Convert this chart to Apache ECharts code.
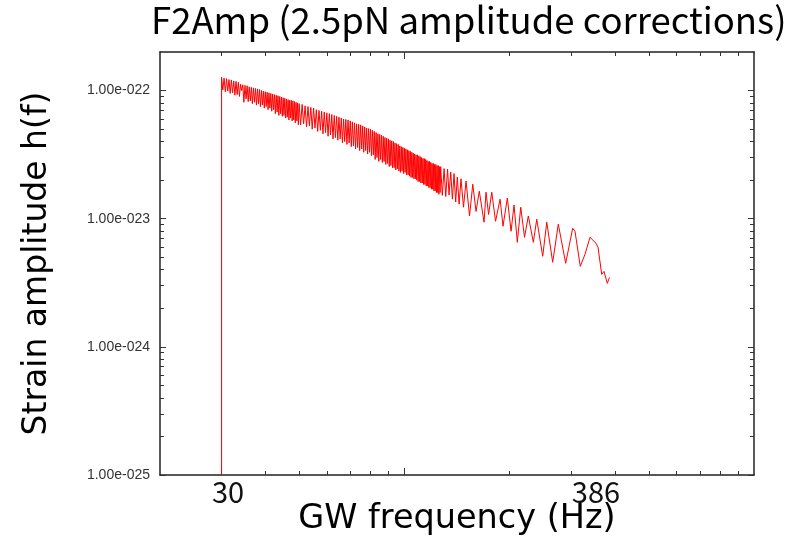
<!DOCTYPE html>
<html>
<head>
<meta charset="utf-8">
<script src="https://cdn.jsdelivr.net/npm/echarts@6/dist/echarts.min.js"></script>
<style>html,body{margin:0;padding:0;background:#fff;}#chart{width:795px;height:538px;}</style>
</head>
<body>
<div id="chart"></div>
<script>
// GW frequency (Hz)
const freq = [
 30,
 30, 30.25, 30.5, 30.75, 31, 31.25, 31.5, 31.75, 32, 32.25, 32.5, 32.75,
 33, 33.25, 33.5, 33.75, 34, 34.25, 34.5, 34.75, 35, 35.25, 35.5, 35.75, 36, 36.25,
 36.5, 36.75, 37, 37.25, 37.5, 37.75, 38, 38.25, 38.5, 38.75, 39, 39.25, 39.5, 39.75, 40, 40.25, 40.5, 40.75, 41, 41.25, 41.5, 41.75, 42, 42.25, 42.5,
 42.75, 43, 43.25, 43.5, 43.75, 44, 44.25, 44.5, 44.75, 45, 45.25, 45.5, 45.75, 46, 46.25, 46.5, 46.75, 47, 47.25, 47.5, 47.75, 48, 48.25, 48.5, 48.75, 49, 49.25, 49.5, 49.75, 50,
 50.5, 51, 51.5, 52, 52.5, 53, 53.5, 54, 54.5, 55, 55.5, 56, 56.5, 57, 57.5, 58, 58.5, 59, 59.5, 60,
 60.5, 61, 61.5, 62, 62.5, 63, 63.5, 64, 64.5, 65, 65.5, 66, 66.5, 67, 67.5, 68, 68.5, 69, 69.5, 70,
 70.5, 71, 71.5, 72, 72.5, 73, 73.5, 74, 74.5, 75, 75.5, 76, 76.5, 77, 77.5, 78, 78.5, 79, 79.5, 80, 80.5, 81, 81.5, 82,
 82.5, 83, 83.5, 84, 84.5, 85, 85.5, 86, 86.5, 87, 87.5, 88, 88.5, 89, 89.5, 90, 90.5, 91, 91.5, 92, 92.5, 93, 93.5, 94, 94.5, 95, 95.5, 96, 96.5, 97,
 97.5, 98, 98.5, 99, 99.5, 100, 100.5, 101, 101.5, 102, 102.5, 103, 103.5, 104, 104.5, 105, 105.5, 106, 106.5, 107, 107.5, 108, 108.5, 109, 109.5, 110,
 110.5, 111, 111.5, 112, 112.5, 113, 113.5, 114, 114.5, 115, 115.5, 116, 116.5, 117, 117.5, 118, 118.5, 119, 119.5, 120, 120.5, 121, 121.5, 122, 122.5, 123, 123.5, 124, 124.5, 125, 125.5, 126, 126.5, 127,
 128.4, 129.9, 131.3, 132.9, 134.2, 135.7, 137.2, 138.7, 140.2, 141.7, 143.4, 145.2, 147.6, 150.1,
 153.6, 156.9, 160.3, 163.8, 169.0, 171.2, 174.1, 177.8, 182.3, 187.8, 191.5, 197.0, 201.9, 205.9,
 210.4, 215.2, 220.6, 226.2, 233.8, 239.1, 248.7, 255.4, 265.6, 275.6, 289.3, 303.0, 307.6, 318.5,
 328.5, 339.6, 353.3, 358.0, 366.8, 372.4, 380.6, 386
];
// Strain amplitude h(f), in units of 1e-24
const amp24 = [
 0.001,
 127, 101, 125, 98, 124, 99, 122, 95, 121, 96, 119, 92,
 118, 93, 116, 90, 112, 100, 111, 81, 110, 86, 109, 82, 107, 83,
 106, 79, 105, 81, 104, 77, 103, 79, 102, 75, 100, 77, 99, 73, 98, 75, 97, 71, 96, 73, 95, 69, 94, 71, 93,
 66, 92, 68, 91, 64, 90, 66, 89, 63, 88, 64, 87, 61, 86, 62, 85, 59, 84, 61, 84, 58, 83, 59, 82, 56, 81, 58, 80, 54, 79,
 54, 78, 55, 76, 52, 75, 53, 74, 50, 73, 51, 71, 48, 70, 49, 69, 46, 68, 47, 67,
 44, 66, 45, 65, 42, 64, 43, 63, 41, 62, 42, 61, 39, 60, 40, 59.5, 38, 59, 39, 58,
 36.5, 57, 37, 56, 35, 55, 36, 54.5, 34, 54, 35, 53, 33, 52, 34, 51, 32, 50.5, 33, 50, 31, 49, 31.5, 48,
 29, 47, 30, 46, 28, 45.5, 29, 45, 27.5, 44, 28, 43, 26.5, 42.5, 27, 42, 25.5, 41, 26, 40.5, 25, 40, 25, 39, 24, 38.5, 24.5, 38, 23.5, 37,
 23, 36.5, 23.5, 36, 22.5, 35.5, 23, 35, 22, 34.5, 22, 34, 21.5, 33.5, 21, 33, 21, 32.5, 20.5, 32, 20.5, 31.5, 20, 31.5, 19.5, 31,
 19.5, 30.5, 19, 30, 19, 29.5, 18.5, 29.5, 18.5, 29, 18, 28.5, 18, 28, 17.5, 28, 17.5, 27.5, 17, 27, 17, 27, 16.5, 26.5, 16.5, 26.5, 16, 26, 16, 26, 15.5, 25.5, 16, 25.5,
 15.2, 24.6, 14.9, 24.4, 15.3, 23.1, 14.2, 22.5, 13.5, 21.1, 13.0, 20.5, 12.3, 19.7,
 10.5, 18.6, 11.4, 16.4, 9.39, 16.1, 10.8, 16.1, 9.56, 14.2, 8.74, 14.5, 7.98, 12.8,
 6.55, 12.3, 7.16, 10.5, 6.55, 9.91, 5.09, 9.39, 4.57, 9.06, 4.49, 8.43, 7.98, 4.25,
 5.27, 7.16, 6.43, 5.98, 3.68, 3.88, 3.13, 3.48
];
const AMP_UNIT = 1e-24;
const xLabelValues = [30, 386];
const xMajorTicks = [100];
const xMinorTicks = [30, 40, 50, 60, 70, 80, 90, 200, 300, 400, 500, 600, 700, 800, 900];
// y ticks in units of 1e-24
const yMajorTicks = [0.1, 1, 10, 100];
const yMinorTicks = [
 0.2, 0.3, 0.4, 0.5, 0.6, 0.7, 0.8, 0.9,
 2, 3, 4, 5, 6, 7, 8, 9,
 20, 30, 40, 50, 60, 70, 80, 90
];

const n = Math.min(freq.length, amp24.length);
const data = [];
for (let i = 0; i < n; i++) data.push([freq[i], amp24[i]]);

function fmtExp(v) {
  const e = Math.round(Math.log10(v));
  const m = v / Math.pow(10, e);
  return m.toFixed(2) + 'e' + (e < 0 ? '-' : '+') + String(Math.abs(e)).padStart(3, '0');
}

const TITLE_FONT = '"Noto Sans CJK KR", "Noto Sans", sans-serif';
const NAME_FONT = '"DejaVu Sans", sans-serif';
const LINE = { color: '#222', width: 1.5 };
const TICK = { color: '#333', width: 1 };

function xAx(pos, ticks, len, extra) {
  return Object.assign({
    type: 'log', logBase: 10, min: 20, max: 1000, position: pos,
    axisLine: { show: false, onZero: false },
    axisTick: { show: true, inside: true, length: len, customValues: ticks, lineStyle: TICK },
    axisLabel: { show: false },
    splitLine: { show: false }, minorTick: { show: false }, minorSplitLine: { show: false }
  }, extra || {});
}
function yAx(pos, ticks, len, extra) {
  return Object.assign({
    type: 'log', logBase: 10, min: 0.1, max: 200, position: pos,
    axisLine: { show: false, onZero: false },
    axisTick: { show: true, inside: true, length: len, customValues: ticks, lineStyle: TICK },
    axisLabel: { show: false },
    splitLine: { show: false }, minorTick: { show: false }, minorSplitLine: { show: false }
  }, extra || {});
}

const chart = echarts.init(document.getElementById('chart'), null, { renderer: 'canvas' });
chart.setOption({
  animation: false,
  backgroundColor: '#fff',
  title: {
    text: 'F2Amp (2.5pN amplitude corrections)',
    left: 146, top: -3,
    textStyle: { fontFamily: TITLE_FONT, fontSize: 36.5, fontWeight: 'normal', color: '#000' }
  },
  grid: { left: 160, right: 41, top: 52, bottom: 63, containLabel: false, outerBoundsMode: 'none' },
  xAxis: [
    xAx('bottom', xMajorTicks, 7, {
      axisLine: { show: true, onZero: false, lineStyle: LINE },
      axisLabel: {
        show: true, customValues: xLabelValues, margin: 2,
        formatter: v => (Math.round(v) === 30 ? '{a|30}' : '{b|' + Math.round(v) + '}'),
        rich: {
          a: { fontFamily: TITLE_FONT, fontSize: 29, color: '#111', padding: [0, 0, 0, 13] },
          b: { fontFamily: TITLE_FONT, fontSize: 29, color: '#111', padding: [0, 27, 0, 0] }
        }
      },
      name: 'GW frequency (Hz)', nameLocation: 'middle', nameGap: 27, nameMoveOverlap: false,
      nameTextStyle: { fontFamily: NAME_FONT, fontSize: 33.5, color: '#000' }
    }),
    xAx('bottom', xMinorTicks, 4),
    xAx('top', xMajorTicks, 7, { axisLine: { show: true, onZero: false, lineStyle: LINE } }),
    xAx('top', xMinorTicks, 4)
  ],
  yAxis: [
    yAx('left', yMajorTicks, 6, {
      axisLine: { show: true, onZero: false, lineStyle: LINE },
      axisLabel: {
        show: true, customValues: yMajorTicks, margin: 10,
        formatter: v => fmtExp(v * AMP_UNIT),
        fontFamily: '"Liberation Sans", Arial, sans-serif', fontSize: 14, color: '#333'
      },
      name: 'Strain amplitude h(f)', nameLocation: 'middle', nameGap: 106,
      nameTextStyle: { fontFamily: NAME_FONT, fontSize: 33, color: '#000' }
    }),
    yAx('left', yMinorTicks, 4),
    yAx('right', yMajorTicks, 6, { axisLine: { show: true, onZero: false, lineStyle: LINE } }),
    yAx('right', yMinorTicks, 4)
  ],
  series: [{
    type: 'line',
    xAxisIndex: 0, yAxisIndex: 0,
    data: data,
    showSymbol: false, symbol: 'none',
    clip: true,
    lineStyle: { color: '#ff0000', width: 1, join: 'bevel' },
    sampling: null
  }]
});
</script>
</body>
</html>
